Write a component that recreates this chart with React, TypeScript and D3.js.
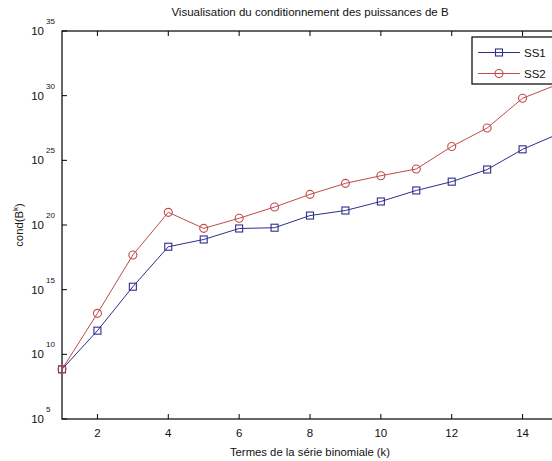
import React from "react";
import * as d3 from "d3";

const ks = [1, 2, 3, 4, 5, 6, 7, 8, 9, 10, 11, 12, 13, 14, 15];
const ss1Exp = [8.84, 11.83, 15.23, 18.32, 18.88, 19.73, 19.79, 20.73, 21.12, 21.82, 22.67, 23.35, 24.29, 25.85, 27.03];
const ss2Exp = [8.84, 13.17, 17.68, 20.98, 19.74, 20.52, 21.39, 22.37, 23.22, 23.81, 24.33, 26.07, 27.5, 29.8, 30.88];
const xTicks = [2, 4, 6, 8, 10, 12, 14];
const yTickExps = [5, 10, 15, 20, 25, 30, 35];
const seriesNames = ["SS1", "SS2"];

const W = 552;
const H = 461;
const FONT = "'Liberation Sans', Arial, Helvetica, sans-serif";
const BLUE = "#2e2e8c";
const RED = "#c24a4a";

export default function App() {
  const x = d3.scaleLinear().domain([1, 15]).range([62, 558]);
  const y = d3.scaleLog().domain([1e5, 1e35]).range([419, 31]);
  const pts1 = ks.map((k, i) => [x(k), y(Math.pow(10, ss1Exp[i]))] as [number, number]);
  const pts2 = ks.map((k, i) => [x(k), y(Math.pow(10, ss2Exp[i]))] as [number, number]);
  const line = d3.line();
  const [x0, x1] = x.range();
  const [yb, yt] = y.range();
  const tl = 5;
  const sq = 7;
  return (
    <svg width={W} height={H} style={{ position: "absolute", left: 0, top: 0, background: "#fff" }} fontFamily={FONT}>
      <rect x={0} y={0} width={W} height={H} fill="#fff" />
      <text x={(x0 + x1) / 2} y={16} textAnchor="middle" fontSize={11.5} fill="#111">
        Visualisation du conditionnement des puissances de B
      </text>
      {/* frame */}
      <rect x={x0} y={yt} width={x1 - x0} height={yb - yt} fill="none" stroke="#000" strokeWidth={1.2} />
      {/* x ticks */}
      {xTicks.map((t) => (
        <g key={"xt" + t}>
          <line x1={x(t)} x2={x(t)} y1={yb} y2={yb - tl} stroke="#000" />
          <line x1={x(t)} x2={x(t)} y1={yt} y2={yt + tl} stroke="#000" />
          <text x={x(t)} y={437} textAnchor="middle" fontSize={11.5} fill="#111">{t}</text>
        </g>
      ))}
      {/* y ticks */}
      {yTickExps.map((e) => {
        const yy = y(Math.pow(10, e));
        return (
          <g key={"yt" + e}>
            <line x1={x0} x2={x0 + tl} y1={yy} y2={yy} stroke="#000" />
            <line x1={x1} x2={x1 - tl} y1={yy} y2={yy} stroke="#000" />
            <text x={44} y={yy + 4} textAnchor="end" fontSize={11.5} fill="#111">10</text>
            <text x={46} y={yy - 7} textAnchor="start" fontSize={8} fill="#111">{e}</text>
          </g>
        );
      })}
      <text x={(x0 + x1) / 2} y={456} textAnchor="middle" fontSize={11.3} fill="#111">
        Termes de la série binomiale (k)
      </text>
      <text transform={`translate(23,${(yt + yb) / 2}) rotate(-90)`} textAnchor="middle" fontSize={11.3} fill="#111">
        cond(B<tspan fontSize={8} dy={-5}>k</tspan><tspan dy={5}>)</tspan>
      </text>
      {/* series */}
      <path d={line(pts1) || ""} fill="none" stroke={BLUE} strokeWidth={1} />
      <path d={line(pts2) || ""} fill="none" stroke={RED} strokeWidth={1} />
      {pts1.map((p, i) => (
        <rect key={"s" + i} x={p[0] - sq / 2} y={p[1] - sq / 2} width={sq} height={sq} fill="none" stroke={BLUE} strokeWidth={1.1} />
      ))}
      {pts2.map((p, i) => (
        <circle key={"c" + i} cx={p[0]} cy={p[1]} r={4} fill="none" stroke={RED} strokeWidth={1.1} />
      ))}
      {/* legend */}
      <rect x={472} y={37} width={84} height={47} fill="#fff" stroke="#000" strokeWidth={1.2} />
      {seriesNames.map((n, i) => {
        const ly = 52.5 + i * 21;
        const col = i === 0 ? BLUE : RED;
        return (
          <g key={n}>
            <line x1={478} x2={520} y1={ly} y2={ly} stroke={col} />
            {i === 0 ? (
              <rect x={499 - sq / 2} y={ly - sq / 2} width={sq} height={sq} fill="none" stroke={col} strokeWidth={1.1} />
            ) : (
              <circle cx={499} cy={ly} r={4} fill="none" stroke={col} strokeWidth={1.1} />
            )}
            <text x={524} y={ly + 4} fontSize={11.5} fill="#111">{n}</text>
          </g>
        );
      })}
    </svg>
  );
}
